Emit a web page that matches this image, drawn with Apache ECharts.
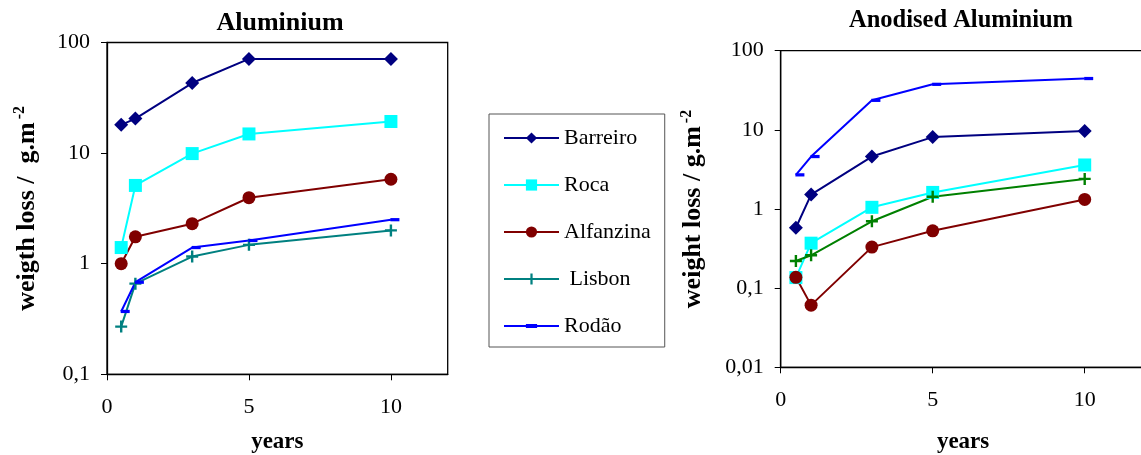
<!DOCTYPE html>
<html>
<head>
<meta charset="utf-8">
<script src="https://cdn.jsdelivr.net/npm/echarts@6/dist/echarts.min.js"></script>
<style>html,body{margin:0;padding:0;background:#fff}#c{width:1141px;height:455px}</style>
</head>
<body>
<div id="c"></div>
<script>
// ---- data ----
var years = [0.5, 1, 3, 5, 10];
var sites = ['Barreiro', 'Roca', 'Alfanzina', 'Lisbon', 'Rodão'];
var xTicks = [0, 5, 10];
var titleLeft = 'Aluminium';
var titleRight = 'Anodised Aluminium';

// Aluminium (g.m-2)
var alBarreiro  = [18, 20.5, 43, 71, 71];
var alRoca      = [1.4, 5.1, 9.9, 14.9, 19.3];
var alAlfanzina = [1.0, 1.75, 2.3, 3.95, 5.8];
var alLisbon    = [0.27, 0.66, 1.16, 1.48, 2.0];
var alRodao     = [0.37, 0.68, 1.4, 1.62, 2.5];

// Anodised aluminium (g.m-2)
var anBarreiro  = [0.58, 1.52, 4.6, 8.1, 9.7];
var anRoca      = [0.136, 0.37, 1.05, 1.62, 3.6];
var anAlfanzina = [0.137, 0.061, 0.33, 0.53, 1.32];
var anLisbon    = [0.22, 0.26, 0.70, 1.43, 2.4];
var anRodao     = [2.7, 4.6, 23.6, 37.6, 44.5];

// ---- styling ----
var FONT = '"Liberation Serif", "Times New Roman", serif';
var plusPath = 'path://M4,0 H6 V4 H10 V6 H6 V10 H4 V6 H0 V4 H4 Z';
var dashPath = 'path://M0,0 M10,10 M0,3.2 H10 V6.8 H0 Z';
var styles = {
  'Barreiro':  {color: '#000080', symbol: 'diamond', size: 14},
  'Roca':      {color: '#00FFFF', symbol: 'rect', size: 13},
  'Alfanzina': {color: '#800000', symbol: 'circle', size: 13},
  'Lisbon':    {color: '#008080', symbol: plusPath, size: 12},
  'Rodão':     {color: '#0000FF', symbol: dashPath, size: 9, offset: [4, 0]}
};

function pairs(vals) { return years.map(function (x, i) { return [x, vals[i]]; }); }

function mk(name, vals, idx, colorOverride) {
  var s = styles[name];
  var c = colorOverride || s.color;
  return {
    name: name, type: 'line', xAxisIndex: idx, yAxisIndex: idx,
    data: pairs(vals),
    symbol: s.symbol, symbolSize: s.size, symbolOffset: s.offset || [0, 0],
    showSymbol: true,
    lineStyle: {color: c, width: 2},
    itemStyle: {color: c},
    emphasis: {disabled: true},
    animation: false, z: 3
  };
}

function logFmt(v) {
  var s = String(+v.toPrecision(6));
  return s.replace('.', ',');
}

function yAxis(idx, min, label, gap) {
  return {
    type: 'log', logBase: 10, min: min, max: 100, gridIndex: idx,
    axisLine: {show: true, lineStyle: {color: '#000', width: 1.3}},
    axisTick: {show: true, inside: false, length: 6, lineStyle: {color: '#000'}},
    minorTick: {show: false},
    splitLine: {show: false},
    axisLabel: {fontFamily: FONT, fontSize: 22, color: '#000', margin: 17, formatter: logFmt},
    name: '{a|' + label + '}{s|-2}',
    nameLocation: 'middle', nameGap: gap,
    nameTextStyle: {
      rich: {
        a: {fontFamily: FONT, fontSize: 26, fontWeight: 'bold', color: '#000', lineHeight: 30},
        s: {fontFamily: FONT, fontSize: 16, fontWeight: 'bold', color: '#000', verticalAlign: 'top', lineHeight: 30, padding: [0, 0, 0, 3]}
      }
    }
  };
}

function xAxis(idx, max, gap) {
  return {
    type: 'value', min: 0, max: max, gridIndex: idx,
    axisLine: {show: true, lineStyle: {color: '#000', width: 1.3}},
    axisTick: {show: true, length: 6, customValues: xTicks, lineStyle: {color: '#000'}},
    splitLine: {show: false},
    axisLabel: {fontFamily: FONT, fontSize: 22, color: '#000', margin: 22, customValues: xTicks},
    name: 'years', nameLocation: 'middle', nameGap: gap,
    nameTextStyle: {fontFamily: FONT, fontSize: 23, fontWeight: 'bold', color: '#000'}
  };
}

var chart = echarts.init(document.getElementById('c'), null, {renderer: 'canvas'});
var series = [
  mk('Barreiro', alBarreiro, 0), mk('Roca', alRoca, 0), mk('Alfanzina', alAlfanzina, 0),
  mk('Lisbon', alLisbon, 0), mk('Rodão', alRodao, 0),
  mk('Barreiro', anBarreiro, 1), mk('Roca', anRoca, 1), mk('Alfanzina', anAlfanzina, 1),
  mk('Lisbon', anLisbon, 1, '#008000'), mk('Rodão', anRodao, 1)
];

chart.setOption({
  backgroundColor: '#fff',
  animation: false,
  title: [
    {text: titleLeft, left: 280, top: 10, textAlign: 'center', padding: 0,
     textStyle: {fontFamily: FONT, fontSize: 26, fontWeight: 'bold', color: '#000'}},
    {text: titleRight, left: 961, top: 8, textAlign: 'center', padding: 0,
     textStyle: {fontFamily: FONT, fontSize: 24.5, fontWeight: 'bold', color: '#000'}}
  ],
  legend: {
    data: sites, orient: 'vertical', left: 489, top: 114,
    padding: [13, 14, 10, 14],
    borderColor: '#555', borderWidth: 1,
    itemWidth: 55, itemHeight: 14, itemGap: 25,
    selectedMode: false,
    formatter: function (n) { return n === 'Lisbon' ? ' Lisbon' : n; },
    textStyle: {fontFamily: FONT, fontSize: 22, color: '#000', lineHeight: 22, padding: [0, 0, 0, 0]}
  },
  grid: [
    {left: 107, top: 42.5, width: 340.7, height: 331.8, outerBoundsMode: 'none', show: true, borderColor: '#000', borderWidth: 1.3, backgroundColor: 'transparent'},
    {left: 780.7, top: 50.7, width: 364.8, height: 316.6, outerBoundsMode: 'none', show: true, borderColor: '#000', borderWidth: 1.3, backgroundColor: 'transparent'}
  ],
  xAxis: [xAxis(0, 12, 56), xAxis(1, 12, 63)],
  yAxis: [yAxis(0, 0.1, 'weigth loss /  g.m', 65), yAxis(1, 0.01, 'weight loss / g.m', 72)],
  series: series
});
</script>
</body>
</html>
